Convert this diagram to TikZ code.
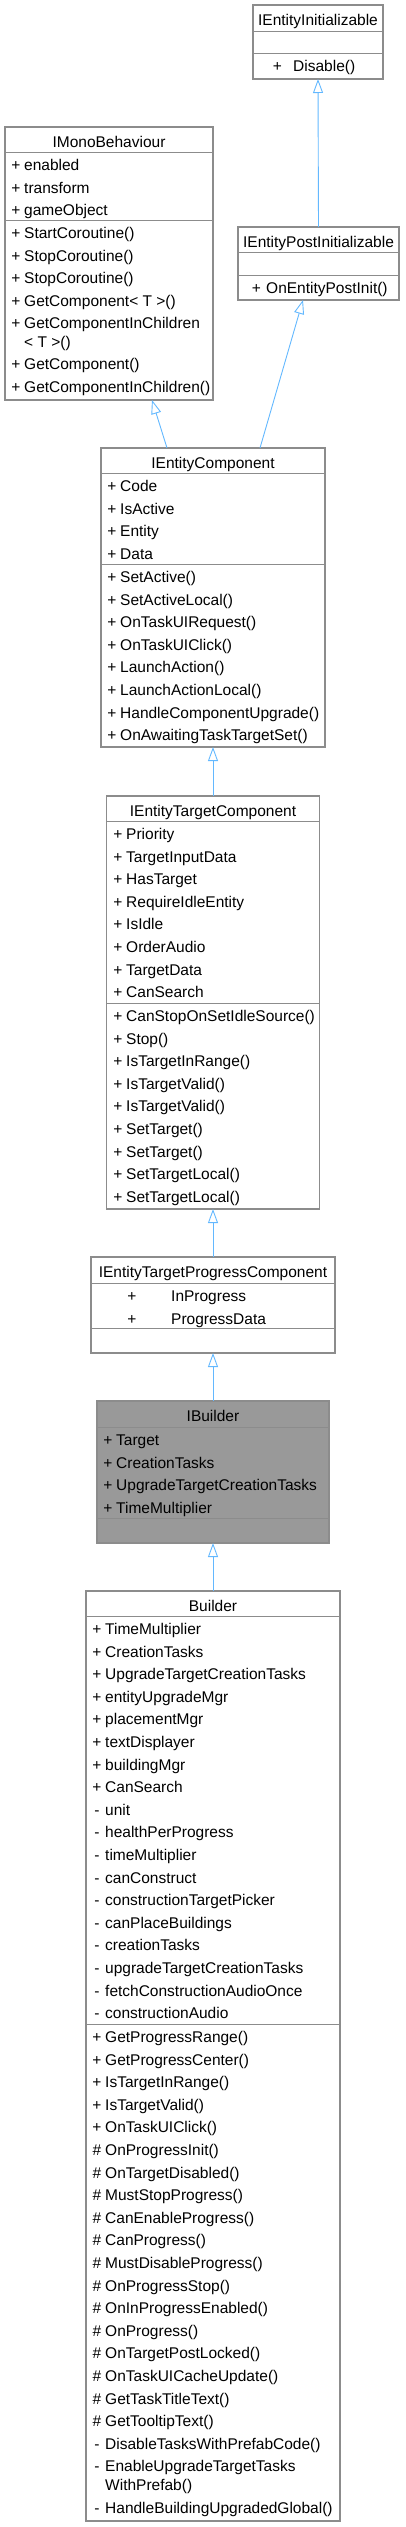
\documentclass[tikz,border=0pt]{standalone}
\usepackage{fontspec}
\setmainfont{Liberation Sans}
\usetikzlibrary{arrows.meta,positioning,calc}

\definecolor{boxline}{HTML}{8C8C8C}
\definecolor{hilite}{HTML}{999999}
\definecolor{inhline}{HTML}{63B8FF}

\begin{document}
\begin{tikzpicture}[
    x=1pt, y=-1pt,
    every node/.style={font=\fontsize{15.5}{18}\selectfont},
    cls/.style={draw=boxline, line width=1.3pt, fill=white, anchor=north west, inner sep=0pt, outer sep=0pt},
    sep/.style={draw=boxline, line width=0.9pt},
    ttl/.style={anchor=base, inner sep=0pt},
    vis/.style={anchor=base, inner sep=0pt},
    mem/.style={anchor=base west, inner sep=0pt},
    inherit/.style={-{Triangle[open, length=14pt, width=10pt]}, draw=inhline, line width=0.9pt},
]
\useasboundingbox (0,0) rectangle (405,2527);

% IEntityInitializable
\node[cls, minimum width=130pt, minimum height=74pt] (einit) at (253,5) {};
\node[ttl] (einit-t) at ([yshift=-20.5pt]einit.north) {IEntityInitializable};
\draw[sep] ([yshift=-26pt]einit.north west) -- ([yshift=-26pt]einit.north east);
\draw[sep] ([yshift=-48pt]einit.north west) -- ([yshift=-48pt]einit.north east);
\node[vis] (einit-v0) at (277.5,71.5) {+};
\node[mem] (einit-m0) at (293,71.5) {Disable()};

% IEntityPostInitializable
\node[cls, minimum width=161pt, minimum height=73pt] (epost) at (238,227) {};
\node[ttl] (epost-t) at ([yshift=-20.5pt]epost.north) {IEntityPostInitializable};
\draw[sep] ([yshift=-25pt]epost.north west) -- ([yshift=-25pt]epost.north east);
\draw[sep] ([yshift=-48pt]epost.north west) -- ([yshift=-48pt]epost.north east);
\node[vis] (epost-v0) at (256.5,293.5) {+};
\node[mem] (epost-m0) at (266,293.5) {OnEntityPostInit()};

% IMonoBehaviour
\node[cls, minimum width=208pt, minimum height=273pt] (imono) at (5,127) {};
\node[ttl] (imono-t) at ([yshift=-20.5pt]imono.north) {IMonoBehaviour};
\draw[sep] ([yshift=-25pt]imono.north west) -- ([yshift=-25pt]imono.north east);
\draw[sep] ([yshift=-93pt]imono.north west) -- ([yshift=-93pt]imono.north east);
\foreach \v/\m [count=\i from 0] in {+/enabled, +/transform, +/gameObject} {
  \node[vis] (imono-av\i) at (16,170.5+22.6*\i) {\v};
  \node[mem] (imono-a\i) at (24,170.5+22.6*\i) {\m};
}
\foreach \v/\m [count=\i from 0] in {+/StartCoroutine(), +/StopCoroutine(), +/StopCoroutine(),
    +/GetComponent< T >(), +/GetComponentInChildren} {
  \node[vis] (imono-mv\i) at (16,238.5+22.6*\i) {\v};
  \node[mem] (imono-m\i) at (24,238.5+22.6*\i) {\m};
}
\node[mem] (imono-m4b) at (24,347) {< T >()};
\foreach \v/\m [count=\i from 5] in {+/GetComponent(), +/GetComponentInChildren()} {
  \node[vis] (imono-mv\i) at (16,369.5+22.6*\i-113) {\v};
  \node[mem] (imono-m\i) at (24,369.5+22.6*\i-113) {\m};
}

% IEntityComponent
\node[cls, minimum width=224pt, minimum height=299pt] (ecomp) at (101,448) {};
\node[ttl] (ecomp-t) at ([yshift=-20.5pt]ecomp.north) {IEntityComponent};
\draw[sep] ([yshift=-25pt]ecomp.north west) -- ([yshift=-25pt]ecomp.north east);
\draw[sep] ([yshift=-116pt]ecomp.north west) -- ([yshift=-116pt]ecomp.north east);
\foreach \v/\m [count=\i from 0] in {+/Code, +/IsActive, +/Entity, +/Data} {
  \node[vis] (ecomp-av\i) at (112,491.5+22.6*\i) {\v};
  \node[mem] (ecomp-a\i) at (120,491.5+22.6*\i) {\m};
}
\foreach \v/\m [count=\i from 0] in {+/SetActive(), +/SetActiveLocal(), +/OnTaskUIRequest(),
    +/OnTaskUIClick(), +/LaunchAction(), +/LaunchActionLocal(), +/HandleComponentUpgrade(),
    +/OnAwaitingTaskTargetSet()} {
  \node[vis] (ecomp-mv\i) at (112,582.5+22.6*\i) {\v};
  \node[mem] (ecomp-m\i) at (120,582.5+22.6*\i) {\m};
}

% IEntityTargetComponent
\node[cls, minimum width=213pt, minimum height=413pt] (etarg) at (106.5,796) {};
\node[ttl] (etarg-t) at ([yshift=-20.5pt]etarg.north) {IEntityTargetComponent};
\draw[sep] ([yshift=-25pt]etarg.north west) -- ([yshift=-25pt]etarg.north east);
\draw[sep] ([yshift=-207pt]etarg.north west) -- ([yshift=-207pt]etarg.north east);
\foreach \v/\m [count=\i from 0] in {+/Priority, +/TargetInputData, +/HasTarget,
    +/RequireIdleEntity, +/IsIdle, +/OrderAudio, +/TargetData, +/CanSearch} {
  \node[vis] (etarg-av\i) at (118,839.5+22.6*\i) {\v};
  \node[mem] (etarg-a\i) at (126,839.5+22.6*\i) {\m};
}
\foreach \v/\m [count=\i from 0] in {+/CanStopOnSetIdleSource(), +/Stop(), +/IsTargetInRange(),
    +/IsTargetValid(), +/IsTargetValid(), +/SetTarget(), +/SetTarget(), +/SetTargetLocal(),
    +/SetTargetLocal()} {
  \node[vis] (etarg-mv\i) at (118,1021.5+22.6*\i) {\v};
  \node[mem] (etarg-m\i) at (126,1021.5+22.6*\i) {\m};
}

% IEntityTargetProgressComponent
\node[cls, minimum width=244pt, minimum height=96pt] (eprog) at (91,1257) {};
\node[ttl] (eprog-t) at ([yshift=-20.5pt]eprog.north) {IEntityTargetProgressComponent};
\draw[sep] ([yshift=-26pt]eprog.north west) -- ([yshift=-26pt]eprog.north east);
\draw[sep] ([yshift=-71pt]eprog.north west) -- ([yshift=-71pt]eprog.north east);
\foreach \v/\m [count=\i from 0] in {+/InProgress, +/ProgressData} {
  \node[vis] (eprog-av\i) at (132,1301.5+22.6*\i) {\v};
  \node[mem] (eprog-a\i) at (171,1301.5+22.6*\i) {\m};
}

% IBuilder
\node[cls, fill=hilite, minimum width=232pt, minimum height=142pt] (ibuild) at (97,1401) {};
\node[ttl] (ibuild-t) at ([yshift=-20.5pt]ibuild.north) {IBuilder};
\draw[sep] ([yshift=-26pt]ibuild.north west) -- ([yshift=-26pt]ibuild.north east);
\draw[sep] ([yshift=-117pt]ibuild.north west) -- ([yshift=-117pt]ibuild.north east);
\foreach \v/\m [count=\i from 0] in {+/Target, +/CreationTasks, +/UpgradeTargetCreationTasks,
    +/TimeMultiplier} {
  \node[vis] (ibuild-av\i) at (108,1445.5+22.6*\i) {\v};
  \node[mem] (ibuild-a\i) at (116,1445.5+22.6*\i) {\m};
}

% Builder
\node[cls, minimum width=254pt, minimum height=930pt] (build) at (86,1591) {};
\node[ttl] (build-t) at ([yshift=-20pt]build.north) {Builder};
\draw[sep] ([yshift=-25pt]build.north west) -- ([yshift=-25pt]build.north east);
\draw[sep] ([yshift=-433pt]build.north west) -- ([yshift=-433pt]build.north east);
\foreach \v/\m [count=\i from 0] in {+/TimeMultiplier, +/CreationTasks,
    +/UpgradeTargetCreationTasks, +/entityUpgradeMgr, +/placementMgr, +/textDisplayer,
    +/buildingMgr, +/CanSearch, -/unit, -/healthPerProgress, -/timeMultiplier, -/canConstruct,
    -/constructionTargetPicker, -/canPlaceBuildings, -/creationTasks,
    -/upgradeTargetCreationTasks, -/fetchConstructionAudioOnce, -/constructionAudio} {
  \node[vis] (build-av\i) at (97,1634.5+22.6*\i) {\v};
  \node[mem] (build-a\i) at (105,1634.5+22.6*\i) {\m};
}
\foreach \v/\m [count=\i from 0] in {+/GetProgressRange(), +/GetProgressCenter(),
    +/IsTargetInRange(), +/IsTargetValid(), +/OnTaskUIClick(), \#/OnProgressInit(),
    \#/OnTargetDisabled(), \#/MustStopProgress(), \#/CanEnableProgress(), \#/CanProgress(),
    \#/MustDisableProgress(), \#/OnProgressStop(), \#/OnInProgressEnabled(), \#/OnProgress(),
    \#/OnTargetPostLocked(), \#/OnTaskUICacheUpdate(), \#/GetTaskTitleText(),
    \#/GetTooltipText(), -/DisableTasksWithPrefabCode(), -/EnableUpgradeTargetTasks} {
  \node[vis] (build-mv\i) at (97,2042.5+22.6*\i) {\v};
  \node[mem] (build-m\i) at (105,2042.5+22.6*\i) {\m};
}
\node[mem] (build-m19b) at (105,2490.5) {WithPrefab()};
\node[vis] (build-mv20) at (97,2513.5) {-};
\node[mem] (build-m20) at (105,2513.5) {HandleBuildingUpgradedGlobal()};

% inheritance
\draw[inherit] (epost.north) -- (einit.south);
\draw[inherit] ([xshift=47pt]ecomp.north) -- ([xshift=-15.5pt]epost.south);
\draw[inherit] ([xshift=-46pt]ecomp.north) -- ([xshift=43pt]imono.south);
\draw[inherit] (etarg.north) -- (ecomp.south);
\draw[inherit] (eprog.north) -- (etarg.south);
\draw[inherit] (ibuild.north) -- (eprog.south);
\draw[inherit] (build.north) -- (ibuild.south);
\end{tikzpicture}
\end{document}
